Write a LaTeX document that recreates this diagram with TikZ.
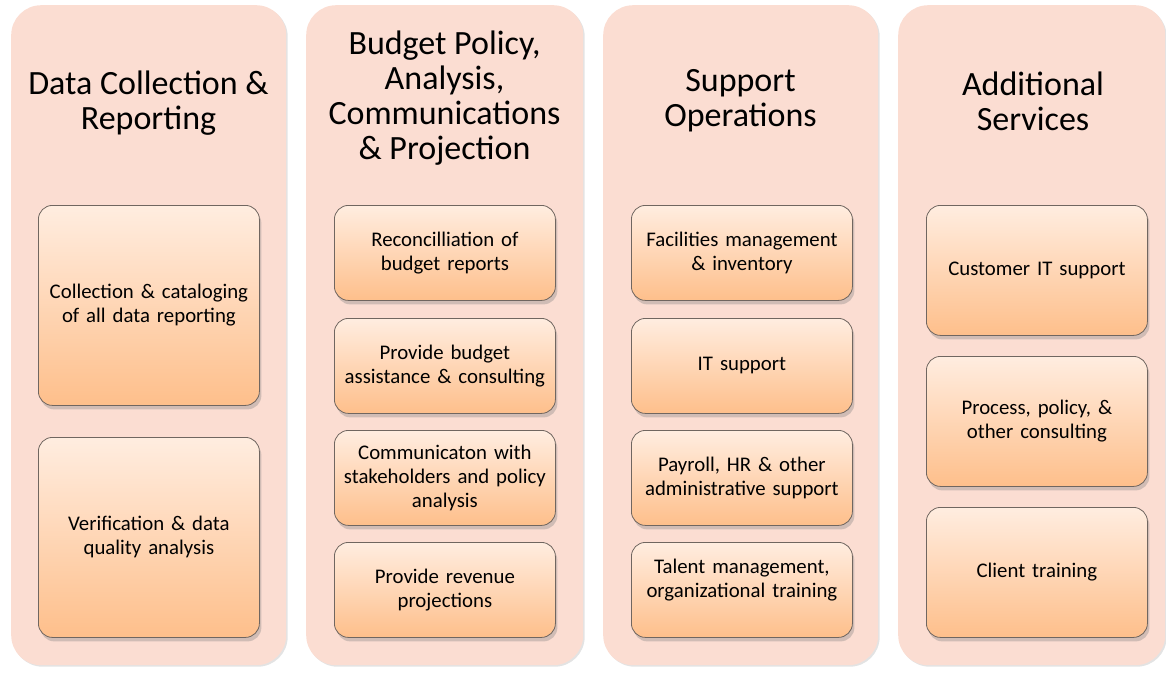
\documentclass[tikz,border=0pt]{standalone}
\usepackage{fontspec}
\setmainfont{Carlito}
\usetikzlibrary{shadows}

\definecolor{panelfill}{RGB}{251,221,210}
\definecolor{boxtop}{RGB}{255,237,224}
\definecolor{boxmid}{RGB}{255,222,196}
\definecolor{boxbot}{RGB}{254,191,139}
\definecolor{boxline}{RGB}{112,102,96}

\tikzset{
  panel/.style={rounded corners=30pt, fill=panelfill, minimum height=660pt,
    anchor=north west, inner sep=0pt,
    drop shadow={opacity=0.22, shadow xshift=1.5pt, shadow yshift=-1.5pt}},
  heading/.style={align=center, font=\fontsize{34}{35}\selectfont},
  task/.style={rounded corners=14pt, draw=boxline, line width=0.8pt,
    top color=boxtop, middle color=boxmid, bottom color=boxbot,
    minimum width=221pt, text width=217pt, align=center, anchor=north west,
    inner xsep=2pt, font=\fontsize{20.8}{24}\selectfont,
    drop shadow={opacity=0.35, shadow xshift=2pt, shadow yshift=-4pt}}
}

\begin{document}
\begin{tikzpicture}[x=1pt,y=-1pt]
  \useasboundingbox (0,0) rectangle (1166,673);

  % four column panels
  \foreach \i/\x/\w in {1/11/275,2/306/277,3/603/275,4/898/267}
  {
    \node [panel, minimum width=\w pt] (p\i) at (\x,5) {};
  }

  % column headings
  \node [heading] (t1) at (148.5,103) {Data Collection \&\\ Reporting};
  \node [heading] (t2) at (444.5,98) {Budget Policy,\\ Analysis,\\ Communications\\ \& Projection};
  \node [heading] (t3) at (740.5,101) {Support\\ Operations};
  \node [heading] (t4) at (1033,101) {Additional\\ Services};

  % first column
  \node [task, minimum height=200pt] (c1a) at (38,205) {Collection \& cataloging\\ of all data reporting};
  \node [task, minimum height=200pt] (c1b) at (38,437) {Verification \& data\\ quality analysis};

  % second column
  \node [task, minimum height=95pt] (c2a) at (334,205) {Reconcilliation of\\ budget reports};
  \node [task, minimum height=95pt] (c2b) at (334,318) {Provide budget\\ assistance \& consulting};
  \node [task, minimum height=95pt] (c2c) at (334,430) {Communicaton with\\ stakeholders and policy\\ analysis};
  \node [task, minimum height=95pt] (c2d) at (334,542) {Provide revenue\\ projections};

  % third column
  \node [task, minimum height=95pt] (c3a) at (631,205) {Facilities management\\ \& inventory};
  \node [task, minimum height=95pt] (c3b) at (631,318) {IT support};
  \node [task, minimum height=95pt] (c3c) at (631,430) {Payroll, HR \& other\\ administrative support};
  \node [task, minimum height=95pt] (c3d) at (631,542) {Talent management,\\ organizational training\\ \mbox{}};

  % fourth column
  \node [task, minimum height=130pt] (c4a) at (926,205) {Customer IT support};
  \node [task, minimum height=130pt] (c4b) at (926,356) {Process, policy, \&\\ other consulting};
  \node [task, minimum height=130pt] (c4c) at (926,507) {Client training};
\end{tikzpicture}
\end{document}
